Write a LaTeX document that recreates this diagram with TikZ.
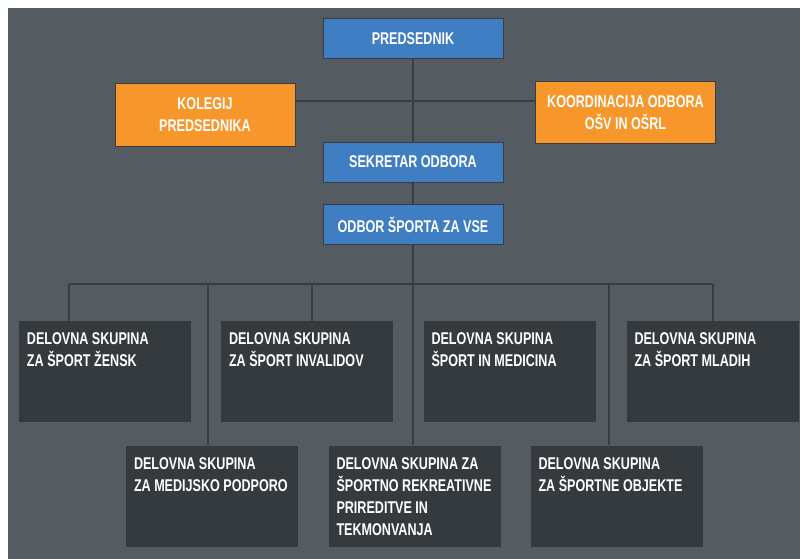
\documentclass[tikz,border=0pt]{standalone}
\usepackage{fontspec}
\newfontfamily\lblfont[FakeStretch=0.74]{Liberation Sans}
\definecolor{bgc}{HTML}{545B61}
\definecolor{bluec}{HTML}{3F7EC3}
\definecolor{orangec}{HTML}{F7962B}
\definecolor{darkc}{HTML}{343A3D}
\definecolor{linec}{HTML}{373D41}
\begin{document}
\begin{tikzpicture}[x=1pt,y=-1pt,
  every node/.style={font=\lblfont\bfseries\fontsize{17}{22}\selectfont, text=white},
  topbox/.style={draw=linec, line width=1pt, fill=bluec, minimum width=180pt, minimum height=40pt, inner sep=0pt, align=center},
  sidebox/.style={draw=linec, line width=1pt, fill=orangec, minimum width=180pt, minimum height=62pt, inner sep=0pt, align=center},
  groupbox/.style={fill=darkc, minimum width=172pt, minimum height=101pt, inner sep=0pt},
  grouptext/.style={anchor=base west, inner sep=0pt, align=left},
  conn/.style={draw=linec, line width=2pt}
]
\useasboundingbox (0,0) rectangle (800,559);
\fill[white] (0,0) rectangle (800,559);
\fill[bgc] (8,8) rectangle (800,559);

\coordinate (hub) at (413,101);
\coordinate (d1) at (69,284);
\coordinate (d2) at (208,284);
\coordinate (d3) at (312,284);
\coordinate (d5) at (609,284);
\coordinate (d6) at (713,284);

% top nodes
\node[topbox] (pred) at (413,39) {PREDSEDNIK};
\node[sidebox] (kol) at (205,115) {KOLEGIJ\\PREDSEDNIKA};
\node[sidebox] (koord) at (625.5,112.5) {KOORDINACIJA ODBORA\\OŠV IN OŠRL};
\node[topbox] (sek) at (413,162) {SEKRETAR ODBORA};
\node[topbox] (odb) at (413,224.5) {ODBOR ŠPORTA ZA VSE};

% group boxes
\node[groupbox] (b1) at (105,371.5) {};
\node[groupbox] (b2) at (307,371.5) {};
\node[groupbox] (b3) at (509.5,371.5) {};
\node[groupbox] (b4) at (712.5,371.5) {};
\node[groupbox] (b5) at (212,496) {};
\node[groupbox] (b6) at (414.5,496) {};
\node[groupbox] (b7) at (616.5,496) {};

% lines
\draw[conn] (pred.south) -- (sek.north);
\draw[conn] (kol.east |- hub) -- (koord.west |- hub);
\draw[conn] (sek.south) -- (odb.north);
\draw[conn] (odb.south) -- (odb.south |- b6.north);
\draw[conn] (d1) -- (d6);
\draw[conn] (d1) -- (d1 |- b1.north);
\draw[conn] (d2) -- (d2 |- b5.north);
\draw[conn] (d3) -- (d3 |- b2.north);
\draw[conn] (d5) -- (d5 |- b7.north);
\draw[conn] (d6) -- (d6 |- b4.north);

% group texts (anchor = baseline of last line)
\node[grouptext] (t1) at ([xshift=8pt,yshift=-46pt]b1.north west) {DELOVNA SKUPINA\\ZA ŠPORT ŽENSK};
\node[grouptext] (t2) at ([xshift=8pt,yshift=-46pt]b2.north west) {DELOVNA SKUPINA\\ZA ŠPORT INVALIDOV};
\node[grouptext] (t3) at ([xshift=8pt,yshift=-46pt]b3.north west) {DELOVNA SKUPINA\\ŠPORT IN MEDICINA};
\node[grouptext] (t4) at ([xshift=8pt,yshift=-46pt]b4.north west) {DELOVNA SKUPINA\\ZA ŠPORT MLADIH};
\node[grouptext] (t5) at ([xshift=8pt,yshift=-46pt]b5.north west) {DELOVNA SKUPINA\\ZA MEDIJSKO PODPORO};
\node[grouptext] (t6) at ([xshift=8pt,yshift=-90pt]b6.north west) {DELOVNA SKUPINA ZA\\ŠPORTNO REKREATIVNE\\PRIREDITVE IN\\TEKMONVANJA};
\node[grouptext] (t7) at ([xshift=8pt,yshift=-46pt]b7.north west) {DELOVNA SKUPINA\\ZA ŠPORTNE OBJEKTE};
\end{tikzpicture}
\end{document}
